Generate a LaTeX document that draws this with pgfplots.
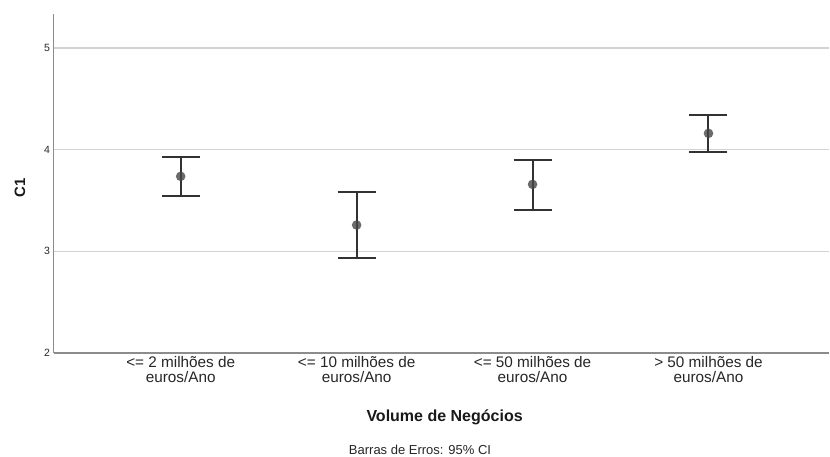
\documentclass[border=0pt]{standalone}
\usepackage{fontspec}
\setmainfont{Liberation Sans}
\usepackage{pgfplots}
\pgfplotsset{compat=1.18}
\definecolor{gridc}{RGB}{210,210,210}
\definecolor{axc}{RGB}{140,140,140}
\definecolor{barc}{RGB}{50,50,50}
\definecolor{markc}{RGB}{70,70,70}
\begin{document}
\begin{tikzpicture}
\begin{axis}[
  scale only axis, width=775.5bp, height=339bp,
  xmin=-0.723, xmax=3.685, ymin=2, ymax=5.335,
  axis x line*=bottom, axis y line*=left,
  axis line style={draw=axc, line width=1.3bp, -},
  ytick={2,3,4,5}, ymajorgrids, grid style={gridc, line width=1.3bp},
  major tick length=0pt,
  xtick={0,1,2,3},
  xticklabels={{<= 2 milhões de\\euros/Ano},{<= 10 milhões de\\euros/Ano},{<= 50 milhões de\\euros/Ano},{> 50 milhões de\\euros/Ano}},
  xticklabel style={font=\fontsize{15.3bp}{15bp}\selectfont, align=center, text=black!85},
  yticklabel style={font=\fontsize{10.5bp}{12bp}\selectfont, text=black!85},
  /pgf/number format/assume math mode=true,
  clip=false,
]
\addplot[barc, line width=2bp, only marks, mark=*, mark size=4.8bp, mark options={line width=0pt, draw opacity=0, fill=markc, fill opacity=0.8},
  error bars/.cd, y dir=both, y explicit,
  error bar style={draw=barc, line width=2bp},
  error mark options={rotate=90, draw=barc, line width=2bp, mark size=19bp}]
  coordinates {
  (0,3.738) += (0,0.194) -= (0,0.194)
  (1,3.259) += (0,0.323) -= (0,0.328)
  (2,3.659) += (0,0.236) -= (0,0.255)
  (3,4.161) += (0,0.177) -= (0,0.187)
  };
\node[font=\bfseries\fontsize{16bp}{16bp}\selectfont, text=black!90] at ([yshift=-64bp]axis cs:1.5,2) {Volume de Negócios};
\end{axis}
\node[font=\bfseries\fontsize{15bp}{15bp}\selectfont, rotate=90, text=black!90] at ([xshift=-33.5bp,yshift=165bp]current axis.south west) {C1};
\node[font=\fontsize{13bp}{13bp}\selectfont, text=black!85] at ([xshift=366.5bp,yshift=-97bp]current axis.south west) {Barras de Erros: 95\% CI};
\pgfresetboundingbox
\path ([xshift=-53.5bp,yshift=-104bp]current axis.south west) rectangle ([xshift=776.5bp,yshift=353bp]current axis.south west);
\end{tikzpicture}
\end{document}
